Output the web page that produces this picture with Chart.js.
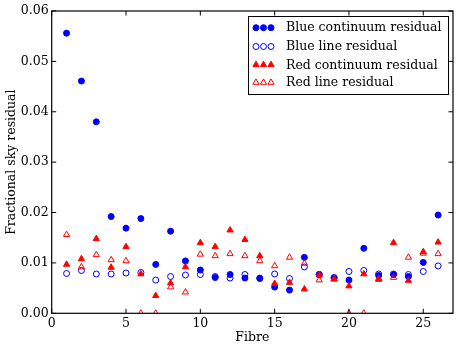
<!DOCTYPE html>
<html>
<head>
<meta charset="utf-8">
<script src="https://cdn.jsdelivr.net/npm/chart.js@4/dist/chart.umd.min.js"></script>
<style>
  body { margin: 0; background: #fff; }
  canvas { display: block; }
</style>
</head>
<body>
<canvas id="residuals" width="463" height="349"></canvas>
<script>
const fibres = [1, 2, 3, 4, 5, 6, 7, 8, 9, 10, 11, 12, 13, 14, 15, 16, 17, 18, 19, 20, 21, 22, 23, 24, 25, 26];

const blueContinuum = [0.0556, 0.0461, 0.0380, 0.0192, 0.0169, 0.0188, 0.0097, 0.0163, 0.0104, 0.0086, 0.0071, 0.0077, 0.0070,
    0.0069, 0.0052, 0.0046, 0.0111, 0.0077, 0.0070, 0.0066, 0.0129, 0.0075, 0.0077, 0.0073, 0.0101, 0.0195];
const blueLine = [0.0079, 0.0085, 0.0078, 0.0078, 0.0080, 0.0081, 0.0066, 0.0073, 0.0076, 0.0077, 0.0073, 0.0070, 0.0077,
    0.0070, 0.0078, 0.0069, 0.0092, 0.0077, 0.0071, 0.0083, 0.0085, 0.0078, 0.0078, 0.0077, 0.0083, 0.0094];
const redContinuum = [0.0097, 0.0108, 0.0148, 0.0091, 0.0132, 0.0078, 0.0035, 0.0060, 0.0092, 0.0140, 0.0132, 0.0165, 0.0146,
    0.0114, 0.0059, 0.0061, 0.0048, 0.0076, 0.0068, 0.0054, 0.0078, 0.0067, 0.0140, 0.0065, 0.0122, 0.0141];
const redLine = [0.0156, 0.0092, 0.0116, 0.0106, 0.0104, 0.0000, 0.0000, 0.0052, 0.0042, 0.0117, 0.0114, 0.0118, 0.0114,
    0.0104, 0.0094, 0.0111, 0.0099, 0.0066, 0.0068, 0.0000, 0.0000, 0.0069, 0.0071, 0.0111, 0.0119, 0.0118];

const seriesLabels = ["Blue continuum residual", "Blue line residual", "Red continuum residual", "Red line residual"];
const xTicks = [0, 5, 10, 15, 20, 25];
const yTicks = [0.00, 0.01, 0.02, 0.03, 0.04, 0.05, 0.06];

const FONT = "'DejaVu Serif', 'Liberation Serif', serif";

function toPoints(values) {
    return fibres.map((f, i) => ({ x: f, y: values[i] }));
}

// marker styles, matplotlib-ish
const styles = [
    { pointStyle: "circle", radius: 3, fill: "#0000ff", stroke: "#0000ff" },
    { pointStyle: "circle", radius: 3, fill: "rgba(0,0,0,0)", stroke: "#0000ff" },
    { pointStyle: "triangle", radius: 3.6, fill: "#ff0000", stroke: "#ff0000" },
    { pointStyle: "triangle", radius: 3.6, fill: "rgba(0,0,0,0)", stroke: "#ff0000" },
];
const seriesData = [blueContinuum, blueLine, redContinuum, redLine];

// inward ticks on all four sides + frame
const framePlugin = {
    id: "frame",
    afterDatasetsDraw(chart) {
        const { ctx, chartArea: a, scales } = chart;
        ctx.save();
        ctx.strokeStyle = "#000";
        ctx.lineWidth = 1;
        const len = 4.5;
        ctx.beginPath();
        xTicks.forEach(v => {
            const px = scales.x.getPixelForValue(v);
            ctx.moveTo(px, a.bottom); ctx.lineTo(px, a.bottom - len);
            ctx.moveTo(px, a.top); ctx.lineTo(px, a.top + len);
        });
        yTicks.forEach(v => {
            const py = scales.y.getPixelForValue(v);
            ctx.moveTo(a.left, py); ctx.lineTo(a.left + len, py);
            ctx.moveTo(a.right, py); ctx.lineTo(a.right - len, py);
        });
        ctx.stroke();
        ctx.lineWidth = 1.2;
        ctx.strokeRect(a.left, a.top, a.right - a.left, a.bottom - a.top);
        ctx.restore();
    }
};

// legend box with three markers per row
const legendPlugin = {
    id: "mplLegend",
    afterDraw(chart) {
        const ctx = chart.ctx;
        const box = { left: 248, top: 16, right: 448, bottom: 94 };
        ctx.save();
        ctx.fillStyle = "#fff";
        ctx.fillRect(box.left, box.top, box.right - box.left, box.bottom - box.top);
        ctx.strokeStyle = "#000";
        ctx.lineWidth = 1;
        ctx.strokeRect(box.left + 0.5, box.top + 0.5, box.right - box.left, box.bottom - box.top);

        const rowY = [27.7, 46.5, 64.8, 82.5];
        const markX = [256, 263.5, 271];
        seriesLabels.forEach((label, i) => {
            const s = styles[i];
            ctx.fillStyle = s.fill;
            ctx.strokeStyle = s.stroke;
            markX.forEach(mx => {
                Chart.helpers.drawPoint(ctx, { pointStyle: s.pointStyle, radius: s.radius, rotation: 0, borderWidth: 1 }, mx, rowY[i]);
            });
            ctx.fillStyle = "#000";
            ctx.font = "12.5px " + FONT;
            ctx.textBaseline = "middle";
            ctx.textAlign = "left";
            ctx.fillText(label, 286, rowY[i] + 0.5);
        });
        ctx.restore();
    }
};

const ctx = document.getElementById("residuals").getContext("2d");

new Chart(ctx, {
    type: "scatter",
    data: {
        datasets: seriesData.map((values, i) => ({
            label: seriesLabels[i],
            data: toPoints(values),
            pointStyle: styles[i].pointStyle,
            pointRadius: styles[i].radius,
            pointHoverRadius: styles[i].radius,
            pointBackgroundColor: styles[i].fill,
            pointBorderColor: styles[i].stroke,
            pointBorderWidth: 1,
            showLine: false,
            clip: 0,
            order: 4 - i, // later series on top, like matplotlib
        })),
    },
    options: {
        responsive: false,
        animation: false,
        layout: { padding: { left: 0, top: 11, right: 10, bottom: 0 } },
        plugins: {
            legend: { display: false },
            tooltip: { enabled: false },
        },
        scales: {
            x: {
                type: "linear",
                min: 0,
                max: 27,
                afterBuildTicks: scale => { scale.ticks = xTicks.map(v => ({ value: v })); },
                afterFit: scale => { scale.height = 35.7; },
                grid: { display: false, drawTicks: false },
                border: { display: false },
                ticks: {
                    padding: 3,
                    autoSkip: false,
                    maxRotation: 0,
                    color: "#000",
                    font: { family: FONT, size: 12.5 },
                },
                title: {
                    display: true,
                    text: "Fibre",
                    color: "#000",
                    padding: { top: 0, bottom: 3.5 },
                    font: { family: FONT, size: 12.5 },
                },
            },
            y: {
                type: "linear",
                min: 0,
                max: 0.06,
                afterBuildTicks: scale => { scale.ticks = yTicks.map(v => ({ value: v })); },
                afterFit: scale => { scale.width = 51.7; },
                grid: { display: false, drawTicks: false },
                border: { display: false },
                ticks: {
                    padding: 3,
                    autoSkip: false,
                    color: "#000",
                    font: { family: FONT, size: 12.5 },
                    callback: v => v.toFixed(2),
                },
                title: {
                    display: true,
                    text: "Fractional sky residual",
                    color: "#000",
                    padding: { top: 4, bottom: 0 },
                    font: { family: FONT, size: 12.5 },
                },
            },
        },
    },
    plugins: [framePlugin, legendPlugin],
});
</script>
</body>
</html>
